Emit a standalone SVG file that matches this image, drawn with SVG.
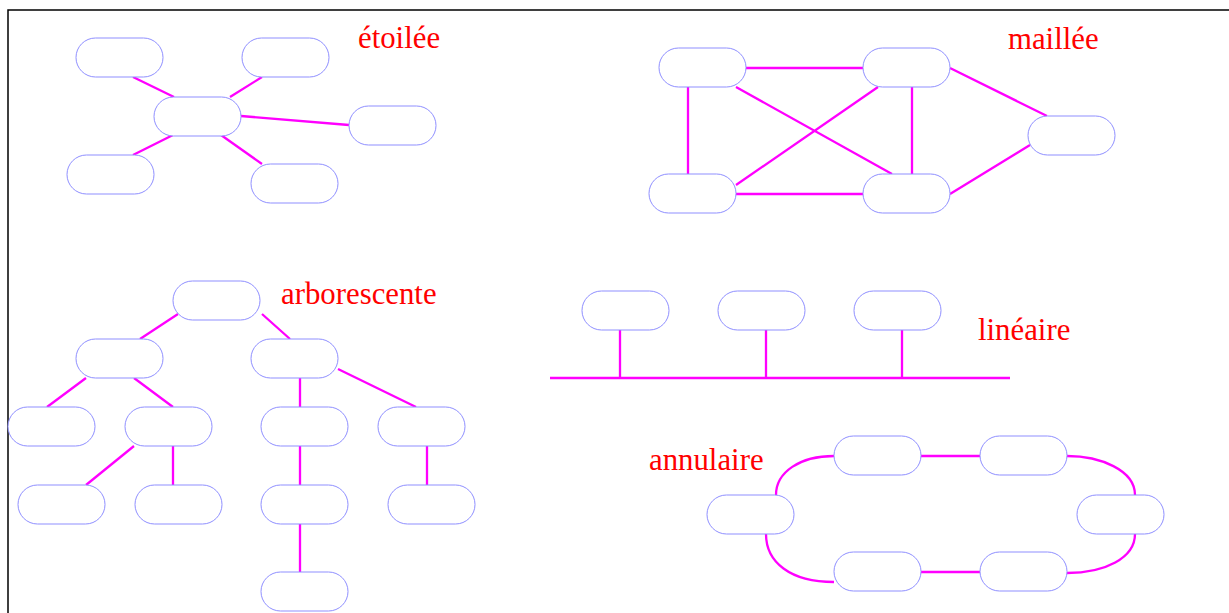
<svg xmlns="http://www.w3.org/2000/svg" width="1229" height="613" viewBox="0 0 1229 613">
<style>
.n{fill:#fff;stroke:#8f8fff;stroke-width:1}
.c{fill:none;stroke:#ff00ff;stroke-width:2.3}
.t{font-family:"Liberation Serif","Times New Roman",serif;font-size:30.8px;fill:#ff0000}
</style>
<defs>
<rect id="nd" width="87" height="39" rx="19.5" ry="19.5" class="n"/>
</defs>
<rect x="8" y="10" width="1240" height="620" fill="#fff" stroke="#000" stroke-width="1.5"/>
<g id="connectors">
<path class="c" d="M133,77L174,97M262,77L230,97M241,116L349,125M173,135L133,155M221,135L262,164"/>
<path class="c" d="M746,68H863M688,87V174M736,87L892,174M736,185L878,87M736,194H863M912,87V174M950,68L1047,116M950,194L1030,145"/>
<path class="c" d="M178,314L140,339M262,314L290,339M86,378L47,407M134,378L173,407M300,378V407M338,369L416,407M134,446L86,485M173,446V485M300,446V485M427,446V485M300,524V572"/>
<path class="c" d="M620,330V378M766,330V378M902,330V378"/>
<path class="c" stroke-width="3" d="M550,378H1010"/>
<path class="c" d="M921,456H980M921,572H980"/>
<path class="c" d="M776,495C776,472 800,456 834,456M766,534C766,562 790,582 834,582M1067,456C1100,456 1135,470 1135,495M1135,534C1135,558 1105,573 1067,573"/>
</g>
<g id="star">
<use href="#nd" x="76" y="38"/>
<use href="#nd" x="242" y="38"/>
<use href="#nd" x="154" y="97"/>
<use href="#nd" x="349" y="106"/>
<use href="#nd" x="67" y="155"/>
<use href="#nd" x="251" y="164"/>
<text class="t" x="358" y="48">étoilée</text>
</g>
<g id="mesh">
<use href="#nd" x="659" y="48"/>
<use href="#nd" x="863" y="48"/>
<use href="#nd" x="1028" y="116"/>
<use href="#nd" x="649" y="174"/>
<use href="#nd" x="863" y="174"/>
<text class="t" x="1008" y="49">maillée</text>
</g>
<g id="tree">
<use href="#nd" x="173" y="281"/>
<use href="#nd" x="76" y="339"/>
<use href="#nd" x="251" y="339"/>
<use href="#nd" x="8" y="407"/>
<use href="#nd" x="125" y="407"/>
<use href="#nd" x="261" y="407"/>
<use href="#nd" x="378" y="407"/>
<use href="#nd" x="18" y="485"/>
<use href="#nd" x="135" y="485"/>
<use href="#nd" x="261" y="485"/>
<use href="#nd" x="388" y="485"/>
<use href="#nd" x="261" y="572"/>
<text class="t" x="281" y="304">arborescente</text>
</g>
<g id="bus">
<use href="#nd" x="582" y="291"/>
<use href="#nd" x="718" y="291"/>
<use href="#nd" x="854" y="291"/>
<text class="t" x="978" y="340">linéaire</text>
</g>
<g id="ring">
<use href="#nd" x="834" y="436"/>
<use href="#nd" x="980" y="436"/>
<use href="#nd" x="1077" y="495"/>
<use href="#nd" x="707" y="495"/>
<use href="#nd" x="834" y="552"/>
<use href="#nd" x="980" y="552"/>
<text class="t" x="649" y="470">annulaire</text>
</g>
</svg>
